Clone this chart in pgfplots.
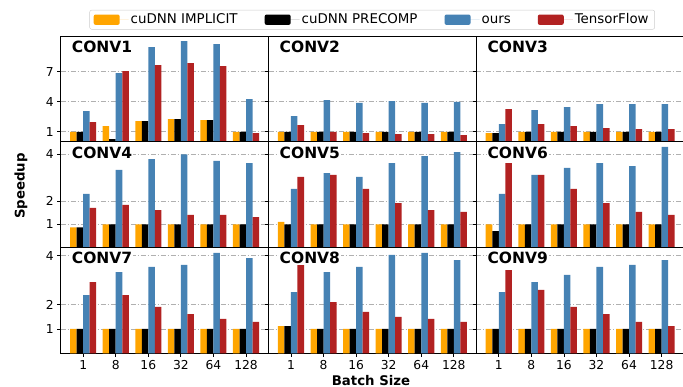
\documentclass[border=0pt]{standalone}
\usepackage{fontspec}
\setmainfont{DejaVu Sans}
\usepackage{pgfplots}
\usepackage{pgfplotstable}
\pgfplotsset{compat=1.18}
\definecolor{cimp}{RGB}{255,165,0}
\definecolor{cours}{RGB}{70,130,180}
\definecolor{ctf}{RGB}{178,34,34}
\definecolor{gridc}{RGB}{176,176,176}
\definecolor{legc}{RGB}{204,204,204}
\newcommand{\tickfont}{\fontsize{12.3}{14}\selectfont}
\newcommand{\legfont}{\fontsize{13.4}{15}\selectfont}
\newcommand{\ttlfont}{\fontsize{15.5}{18}\selectfont\bfseries}
\newcommand{\labfont}{\fontsize{13.3}{15}\selectfont\bfseries}

% x: 0..5 = batch size 1,8,16,32,64,128
\pgfplotstableread{
x imp pre ours tf
0 1.00 1.00 3.07 1.97
1 1.57 0.27 6.87 7.07
2 2.07 2.07 9.47 7.67
3 2.27 2.27 10.07 7.87
4 2.17 2.17 9.77 7.57
5 1.00 1.00 4.27 0.87
}\cA
\pgfplotstableread{
x imp pre ours tf
0 1.00 1.00 2.57 1.67
1 1.00 1.00 4.17 1.00
2 1.00 1.00 3.90 0.87
3 1.00 1.00 4.07 0.77
4 1.00 1.00 3.90 0.77
5 1.00 1.00 4.00 0.67
}\cB
\pgfplotstableread{
x imp pre ours tf
0 0.87 0.87 1.77 3.27
1 1.00 1.00 3.17 1.77
2 1.00 1.00 3.47 1.57
3 1.00 1.00 3.77 1.37
4 1.00 1.00 3.77 1.27
5 1.00 1.00 3.77 1.27
}\cC
\pgfplotstableread{
x imp pre ours tf
0 0.87 0.87 2.30 1.70
1 1.00 1.00 3.33 1.83
2 1.00 1.00 3.80 1.61
3 1.00 1.00 4.00 1.40
4 1.00 1.00 3.72 1.40
5 1.00 1.00 3.63 1.31
}\cD
\pgfplotstableread{
x imp pre ours tf
0 1.10 1.00 2.52 3.03
1 1.00 1.00 3.20 3.12
2 1.00 1.00 3.03 2.52
3 1.00 1.00 3.63 1.91
4 1.00 1.00 3.93 1.61
5 1.00 1.00 4.10 1.53
}\cE
\pgfplotstableread{
x imp pre ours tf
0 1.00 0.71 2.30 3.63
1 1.00 1.00 3.12 3.12
2 1.00 1.00 3.42 2.52
3 1.00 1.00 3.63 1.91
4 1.00 1.00 3.50 1.53
5 1.00 1.00 4.32 1.40
}\cF
\pgfplotstableread{
x imp pre ours tf
0 1.00 1.00 2.39 2.92
1 1.00 1.00 3.33 2.39
2 1.00 1.00 3.54 1.90
3 1.00 1.00 3.62 1.61
4 1.00 1.00 4.11 1.41
5 1.00 1.00 3.90 1.29
}\cG
\pgfplotstableread{
x imp pre ours tf
0 1.12 1.12 2.51 3.62
1 1.00 1.00 3.33 2.10
2 1.00 1.00 3.54 1.70
3 1.00 1.00 4.03 1.49
4 1.00 1.00 4.11 1.41
5 1.00 1.00 3.82 1.29
}\cH
\pgfplotstableread{
x imp pre ours tf
0 1.00 1.00 2.51 3.41
1 1.00 1.00 2.92 2.60
2 1.00 1.00 3.21 1.90
3 1.00 1.00 3.54 1.61
4 1.00 1.00 3.62 1.29
5 1.00 1.00 3.82 1.12
}\cI

\pgfplotsset{
  mybar/.style={ybar, bar width=0.2, draw=none,
    legend image code/.code={\fill[##1] (0pt,-5.2pt) rectangle (26pt,5.2pt);
      \path (0pt,0pt) -- (35pt,0pt);}},
  panel/.style={
    scale only axis, width=207.8pt, height=105.8pt,
    anchor=north west,
    xmin=-0.69, xmax=5.69, ymin=0,
    axis line style={line width=0.8pt, black},
    tick style={line width=0.8pt, black},
    major tick length=3.5pt,
    tick align=outside,
    xtick pos=left, ytick pos=left,
    ymajorgrids,
    major grid style={gridc, line width=0.9pt, dash pattern=on 5pt off 2pt on 1pt off 2pt},
    ticklabel style={font=\tickfont},
    /pgf/number format/assume math mode=true,
  },
  toprow/.style={ymax=10.57, ytick={1,4,7}, xtick=\empty},
  midrow/.style={ymax=4.54, ytick={1,2,4}, xtick=\empty},
  botrow/.style={ymax=4.33, ytick={1,2,4}, xtick={0,...,5}, xticklabels={1,8,16,32,64,128}},
  inner/.style={yticklabels={}},
}
\newcommand{\bars}[1]{%
  \addplot[mybar, fill=cimp, bar shift=-0.3] table[x=x,y=imp]{#1};
  \addplot[mybar, fill=black, bar shift=-0.1] table[x=x,y=pre]{#1};
  \addplot[mybar, fill=cours, bar shift=0.1] table[x=x,y=ours]{#1};
  \addplot[mybar, fill=ctf, bar shift=0.3] table[x=x,y=tf]{#1};
}
\newcommand{\ttl}[1]{\node[anchor=base west, fill=white, inner sep=1pt, xshift=10pt, yshift=-16.4pt, font=\ttlfont] at (rel axis cs:0,1) {#1};}

\begin{document}
\begin{tikzpicture}
% row 1
\begin{axis}[panel, toprow, at={(60.7pt,-36pt)},
  legend columns=4,
  legend style={at={(1.499,1.154)}, anchor=center, draw=legc, rounded corners=2pt,
    fill=white, font=\legfont, inner xsep=4pt, inner ysep=3.5pt,
    nodes={text height=0.78em, text depth=0.04em},
    /tikz/every even column/.append style={column sep=25pt}},
  legend cell align=left]
\bars{\cA}
\legend{cuDNN IMPLICIT, cuDNN PRECOMP, ours, TensorFlow}
\ttl{CONV1}
\end{axis}
\begin{axis}[panel, toprow, inner, at={(268.5pt,-36pt)}]
\bars{\cB}
\ttl{CONV2}
\end{axis}
\begin{axis}[panel, toprow, inner, at={(476.3pt,-36pt)}]
\bars{\cC}
\ttl{CONV3}
\end{axis}
% row 2
\begin{axis}[panel, midrow, at={(60.7pt,-141.8pt)}]
\bars{\cD}
\ttl{CONV4}
\end{axis}
\begin{axis}[panel, midrow, inner, at={(268.5pt,-141.8pt)}]
\bars{\cE}
\ttl{CONV5}
\end{axis}
\begin{axis}[panel, midrow, inner, at={(476.3pt,-141.8pt)}]
\bars{\cF}
\ttl{CONV6}
\end{axis}
% row 3
\begin{axis}[panel, botrow, at={(60.7pt,-247.6pt)}]
\bars{\cG}
\ttl{CONV7}
\end{axis}
\begin{axis}[panel, botrow, inner, at={(268.5pt,-247.6pt)}]
\bars{\cH}
\ttl{CONV8}
\end{axis}
\begin{axis}[panel, botrow, inner, at={(476.3pt,-247.6pt)}]
\bars{\cI}
\ttl{CONV9}
\end{axis}
\node[rotate=90, anchor=center, font=\labfont] at (21pt,-186pt) {Speedup};
\node[anchor=base, font=\labfont] at (371pt,-385pt) {Batch Size};
\pgfresetboundingbox
\path[use as bounding box] (0pt,0pt) rectangle (683pt,-387pt);
\end{tikzpicture}
\end{document}
